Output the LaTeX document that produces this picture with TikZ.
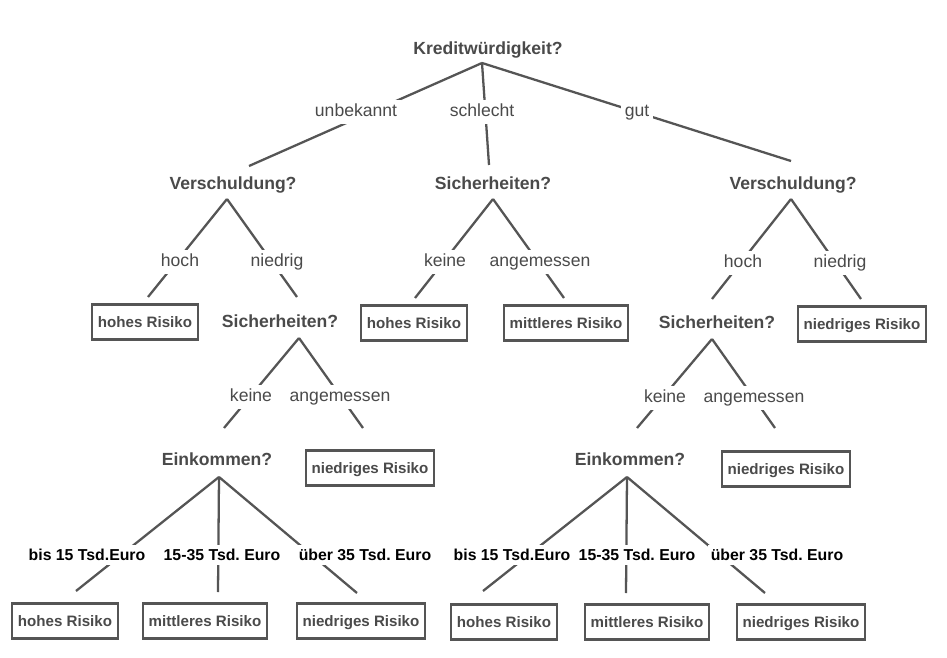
\documentclass[tikz,border=0pt]{standalone}
\usepackage{fontspec}
\setmainfont{Liberation Sans}
\usetikzlibrary{calc}
\frenchspacing
\definecolor{grau}{HTML}{4A4A4A}
\definecolor{linie}{HTML}{555555}
\tikzset{
frage/.style={font=\fontsize{10}{12}\selectfont\bfseries, text=grau, text height=7.2pt, text depth=0pt, inner sep=0pt},
kante/.style={font=\fontsize{10}{12}\selectfont, text=grau, fill=white, text height=7.5pt, text depth=2pt, inner xsep=2pt, inner ysep=2.2pt},
betrag/.style={font=\fontsize{9}{11}\selectfont\bfseries, fill=white, text height=6.6pt, text depth=0pt, inner xsep=1.5pt, inner ysep=2.6pt},
risiko/.style={draw=linie, line width=1.2pt, font=\fontsize{8.6}{10}\selectfont\bfseries, text=grau, text height=6.2pt, text depth=0pt, minimum height=7mm, inner xsep=3.2pt},
ast/.style={draw=linie, line width=1.3pt}
}
\begin{document}
\begin{tikzpicture}[x=0.2mm,y=-0.2mm]
\fill[white] (0,0) rectangle (947,658);
\node[frage] (kredit) at (488,48) {Kreditwürdigkeit?};
\node[frage] (versch1) at (233,183) {Verschuldung?};
\node[frage] (sicher1) at (493,183) {Sicherheiten?};
\node[frage] (versch2) at (793,183) {Verschuldung?};
\node[frage] (sicher2) at (280,321) {Sicherheiten?};
\node[frage] (sicher3) at (717,322) {Sicherheiten?};
\node[frage] (eink1) at (217,459) {Einkommen?};
\node[frage] (eink2) at (630,459) {Einkommen?};
\node[risiko] (r1) at (145,322) {hohes Risiko};
\node[risiko] (r2) at (414,323) {hohes Risiko};
\node[risiko] (r3) at (566,323) {mittleres Risiko};
\node[risiko] (r4) at (862,324) {niedriges Risiko};
\node[risiko] (r5) at (370,468) {niedriges Risiko};
\node[risiko] (r6) at (786,469) {niedriges Risiko};
\node[risiko] (r7) at (65,621) {hohes Risiko};
\node[risiko] (r8) at (205,621) {mittleres Risiko};
\node[risiko] (r9) at (361,621) {niedriges Risiko};
\node[risiko] (r10) at (504,622) {hohes Risiko};
\node[risiko] (r11) at (647,622) {mittleres Risiko};
\node[risiko] (r12) at (801,622) {niedriges Risiko};
\foreach \a/\ax/\ay/\b/\bx/\by in {
kredit/-6/15/versch1/16/-17, kredit/-6/15/sicher1/-4/-18, kredit/-6/15/versch2/-2/-22,
versch1/-6/16/r1/3/-25, versch1/-6/16/sicher2/17/-24,
sicher1/0/16/r2/1/-25, sicher1/0/16/r3/-2/-25,
versch2/-2/16/sicher3/-5/-23, versch2/-2/16/r4/-1/-25,
sicher2/19/17/eink1/7/-31, sicher2/19/17/r5/-7/-40,
sicher3/-5/17/eink2/7/-31, sicher3/-5/17/r6/-11/-41,
eink1/2/18/r7/11/-30, eink1/2/18/r8/13/-29, eink1/2/18/r9/-4/-28,
eink2/-3/18/r10/-21/-31, eink2/-3/18/r11/-21/-29, eink2/-3/18/r12/-36/-29}
{
\draw[ast] ($(\a)+(\ax,\ay)$) -- ($(\b)+(\bx,\by)$);
}
\node[kante] (unbek) at (356,112) {unbekannt};
\node[kante] (schlecht) at (482,112) {schlecht};
\node[kante] (gut) at (637,112) {gut};
\node[kante] (hoch1) at (180,262) {hoch};
\node[kante] (niedrig1) at (277,262) {niedrig};
\node[kante] (keine1) at (445,262) {keine};
\node[kante] (angem1) at (540,262) {angemessen};
\node[kante] (hoch2) at (743,263) {hoch};
\node[kante] (niedrig2) at (840,263) {niedrig};
\node[kante] (keine2) at (251,397) {keine};
\node[kante] (angem2) at (340,397) {angemessen};
\node[kante] (keine3) at (665,398) {keine};
\node[kante] (angem3) at (754,398) {angemessen};
\foreach \x/\y/\n in {87/555/1, 512/555/2}
{
\node[betrag] (bis\n) at (\x,\y) {bis 15 Tsd.Euro};
}
\foreach \x/\y/\n in {222/555/1, 637/555/2}
{
\node[betrag] (mitte\n) at (\x,\y) {15-35 Tsd. Euro};
}
\foreach \x/\y/\n in {365/555/1, 777/555/2}
{
\node[betrag] (ueber\n) at (\x,\y) {über 35 Tsd. Euro};
}
\end{tikzpicture}
\end{document}
